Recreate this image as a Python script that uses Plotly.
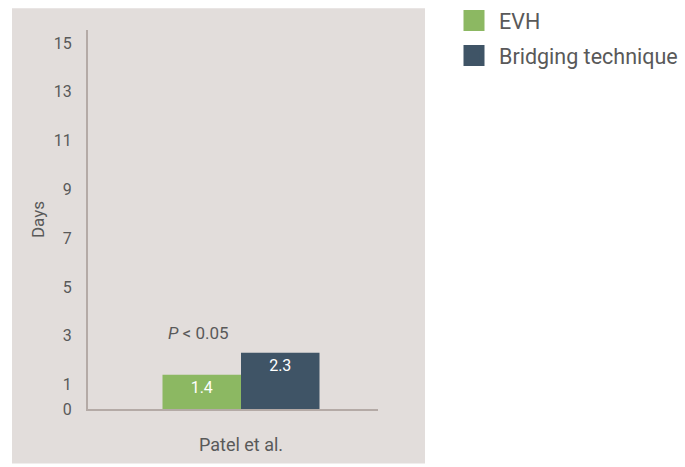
import plotly.graph_objects as go

categories = ["Patel et al."]
evh_values = [1.4]
bridging_values = [2.3]
series_names = ["EVH", "Bridging technique"]
y_ticks = [0, 1, 3, 5, 7, 9, 11, 13, 15]
p_text = "<i>P</i> &lt; 0.05"

green = "#8CB862"
navy = "#3F5466"
panel = "#E2DDDB"
axis_col = "#B4AAA6"
txt = "#595959"
font = "Roboto, Arial, sans-serif"

fig = go.Figure()
for name, vals, col in [(series_names[0], evh_values, green), (series_names[1], bridging_values, navy)]:
    fig.add_trace(go.Bar(
        x=categories, y=vals, name=name, marker=dict(color=col, line=dict(width=0)),
        text=[f"{v:.1f}" for v in vals], textposition="inside", insidetextanchor="end",
        textangle=0, insidetextfont=dict(color="white", size=16, family=font),
        showlegend=False, hoverinfo="skip"))
    fig.add_trace(go.Scatter(
        x=[None], y=[None], mode="markers", name=name, legendgroup=name,
        marker=dict(symbol="square", size=16, color=col, line=dict(color=col, width=5)),
        showlegend=True))

fig.add_shape(type="rect", xref="paper", yref="paper",
              x0=(12 - 88) / 290, x1=(425 - 88) / 290,
              y0=(412 - 467) / 382, y1=(412 - 8) / 382,
              fillcolor=panel, line=dict(width=0), layer="below")

fig.add_annotation(text=p_text, xref="paper", yref="y", x=(166 - 88) / 290, y=3.1,
                   xanchor="left", yanchor="middle", showarrow=False,
                   font=dict(size=17, color=txt, family=font))

fig.update_layout(
    width=685, height=467,
    margin=dict(l=88, r=307, t=30, b=55),
    paper_bgcolor="white", plot_bgcolor="rgba(0,0,0,0)",
    barmode="group", bargap=1 - 157 / 290, bargroupgap=0,
    font=dict(family=font, color=txt, size=16),
    legend=dict(xref="container", yref="container", x=449 / 685, y=1 - 0 / 467,
                xanchor="left", yanchor="top", bgcolor="rgba(0,0,0,0)", itemwidth=40,
                font=dict(size=21.5, color=txt, family=font), tracegroupgap=4),
    xaxis=dict(range=[-(241 - 88) / 290, 1 - (241 - 88) / 290], showgrid=False,
               showline=True, linecolor=axis_col, linewidth=2, ticks="",
               ticklabelstandoff=18, tickfont=dict(size=18, color=txt), zeroline=False),
    yaxis=dict(range=[0, 382 / 24.6], tickvals=y_ticks, showgrid=False, zeroline=False,
               showline=True, linecolor=axis_col, linewidth=2, ticks="",
               ticklabelstandoff=11, tickfont=dict(size=16, color=txt),
               title=dict(text="Days", font=dict(size=17, color=txt), standoff=5)),
)

fig.write_html("out.html", post_script="document.body.style.margin='0';",
               config={"displayModeBar": False})
